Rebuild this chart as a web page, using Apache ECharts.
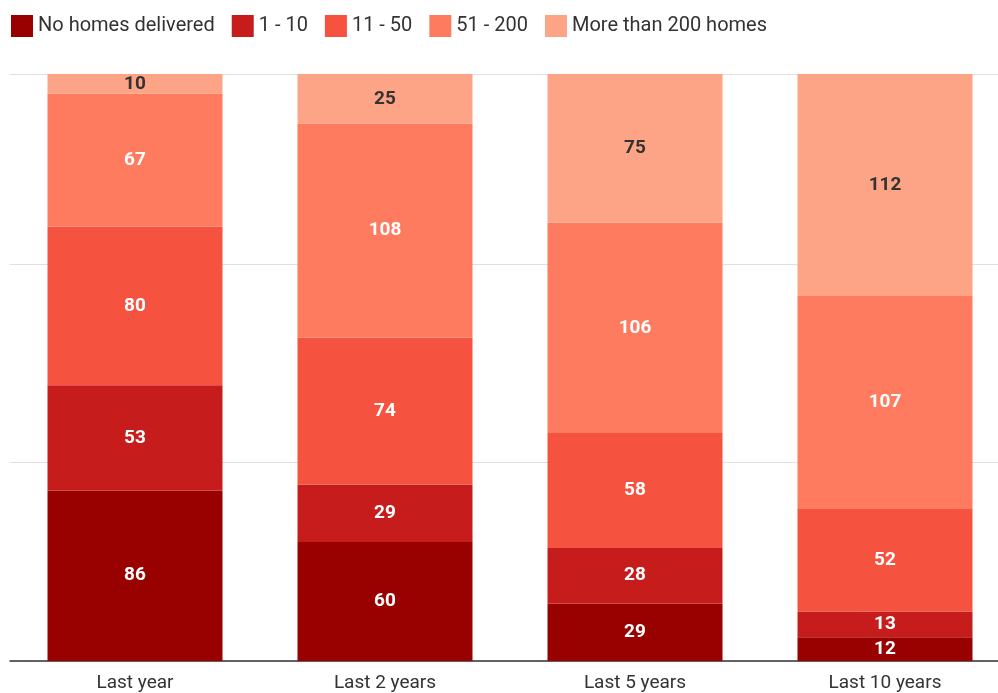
<!DOCTYPE html>
<html>
<head>
<meta charset="utf-8">
<script src="https://cdn.jsdelivr.net/npm/echarts@6/dist/echarts.min.js"></script>
<style>
  html, body { margin: 0; padding: 0; background: #fff; overflow: hidden; }
  /* plot runs past the right edge in the original, so the canvas is a bit wider than the window */
  #myChart { width: 1010px; height: 693px; }
</style>
</head>
<body>
<div id="myChart"></div>
<script>
// categories and series
const categories = ["Last year", "Last 2 years", "Last 5 years", "Last 10 years"];
const seriesNames = ["No homes delivered", "1 - 10", "11 - 50", "51 - 200", "More than 200 homes"];
const noHomes = [86, 60, 29, 12];
const oneToTen = [53, 29, 28, 13];
const elevenToFifty = [80, 74, 58, 52];
const fiftyOneTo200 = [67, 108, 106, 107];
const moreThan200 = [10, 25, 75, 112];

const colors = ["#990000", "#c71c1c", "#f5533f", "#fe7b60", "#fea486"];
const allData = [noHomes, oneToTen, elevenToFifty, fiftyOneTo200, moreThan200];

const series = allData.map((d, i) => ({
  name: seriesNames[i],
  type: "bar",
  stack: "total",
  barWidth: 175,
  data: d,
  itemStyle: { color: colors[i] },
  label: {
    show: true,
    position: "inside",
    fontFamily: "Roboto",
    fontWeight: "bold",
    fontSize: 19,
    color: i === 4 ? "#333333" : "#ffffff",
  },
}));

const option = {
  animation: false,
  color: colors,
  legend: {
    data: seriesNames,
    left: 6,
    top: 10,
    itemWidth: 22,
    itemHeight: 22,
    itemGap: 17,
    icon: "rect",
    textStyle: { fontFamily: "Roboto", fontSize: 20, color: "#333333" },
  },
  grid: { left: 10, top: 74, right: 0, height: 587 },
  xAxis: {
    type: "category",
    data: categories,
    axisTick: { show: false },
    axisLine: { lineStyle: { color: "#333333", width: 1.5 } },
    axisLabel: { fontFamily: "Roboto", fontSize: 19, color: "#333333", margin: 13 },
  },
  yAxis: {
    type: "value",
    min: 0,
    max: 296,
    interval: 100,
    axisLabel: { show: false },
    axisLine: { show: false },
    axisTick: { show: false },
    splitLine: { lineStyle: { color: "#e0e0e0" } },
  },
  series: series,
};

const chart = echarts.init(document.getElementById("myChart"));
chart.setOption(option);
</script>
</body>
</html>
